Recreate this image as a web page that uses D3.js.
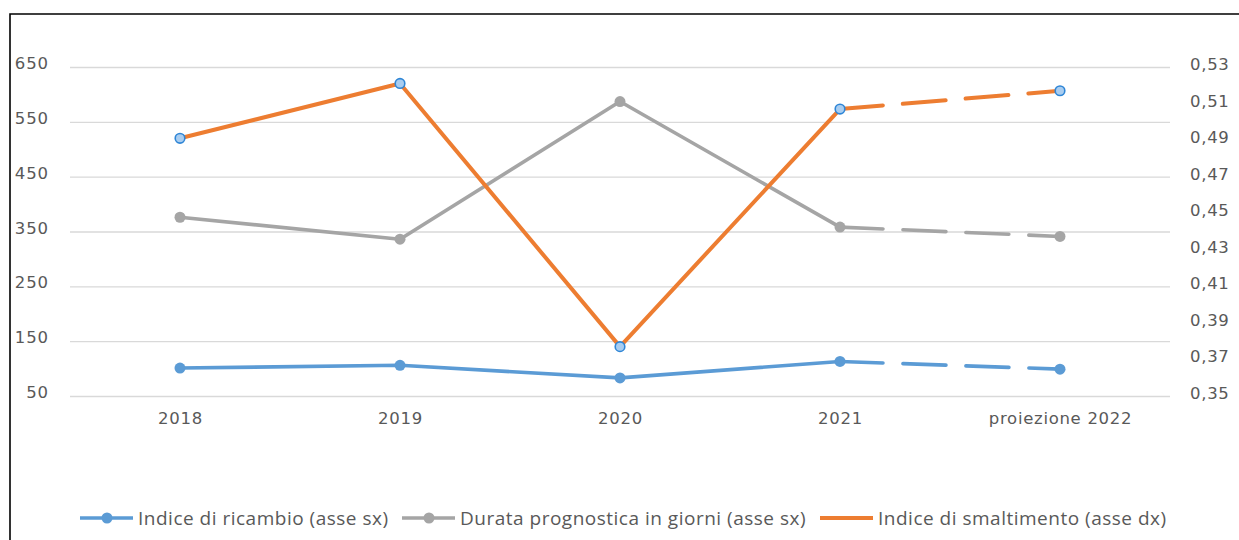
<!DOCTYPE html>
<html>
<head>
<meta charset="utf-8">
<script src="https://cdn.jsdelivr.net/npm/d3@7"></script>
<style>
  body { margin: 0; background: #fff; }
  svg { display: block; }
</style>
</head>
<body>
<div id="chart"></div>
<script>
// data
var years = ['2018', '2019', '2020', '2021', 'proiezione 2022']
var ricambio = [101, 106, 83, 113, 99]
var durata = [376, 336, 587, 358, 341]
var smaltimento = [0.491, 0.521, 0.377, 0.507, 0.517]
var leftTicks = [50, 150, 250, 350, 450, 550, 650]
var rightTicks = [0.35, 0.37, 0.39, 0.41, 0.43, 0.45, 0.47, 0.49, 0.51, 0.53]
var legendLabels = ['Indice di ricambio (asse sx)', 'Durata prognostica in giorni (asse sx)', 'Indice di smaltimento (asse dx)']

var width = 1239
var height = 540
var plot = { left: 70, right: 1170, top: 67, bottom: 396 }

var svg = d3.select('#chart').append('svg')
  .attr('width', width)
  .attr('height', height)

// frame
svg.append('path')
  .attr('d', 'M10,' + (height + 5) + 'V14H' + (width + 5))
  .attr('fill', 'none')
  .attr('stroke', '#000')
  .attr('stroke-width', 1.6)

var xScale = d3.scalePoint()
  .domain(years)
  .range([plot.left, plot.right])
  .padding(0.5)

var yLeft = d3.scaleLinear()
  .domain([50, 650])
  .range([plot.bottom, plot.top])

var yRight = d3.scaleLinear()
  .domain([0.35, 0.53])
  .range([plot.bottom, plot.top])

var tickFont = '"DejaVu Sans", Verdana, sans-serif'

// grid + left axis
var leftAxis = d3.axisLeft(yLeft)
  .tickValues(leftTicks)
  .tickSize(-(plot.right - plot.left))
  .tickPadding(21)
  .tickFormat(d3.format('d'))

var gl = svg.append('g')
  .attr('transform', 'translate(' + plot.left + ',0)')
  .call(leftAxis)
gl.select('.domain').remove()
gl.selectAll('.tick line').attr('stroke', '#d9d9d9').attr('stroke-width', 1.3)
gl.selectAll('.tick text')
  .attr('fill', '#595959')
  .attr('dy', '0.1em')
  .style('font-family', tickFont)
  .style('font-size', '16.5px')
  .style('letter-spacing', '0.9px')

// right axis labels
var rightAxis = d3.axisRight(yRight)
  .tickValues(rightTicks)
  .tickSize(0)
  .tickPadding(20)
  .tickFormat(function(d) { return d3.format('.2f')(d).replace('.', ',') })

var gr = svg.append('g')
  .attr('transform', 'translate(' + plot.right + ',0)')
  .call(rightAxis)
gr.select('.domain').remove()
gr.selectAll('.tick text')
  .attr('fill', '#595959')
  .attr('dy', '0.15em')
  .style('font-family', tickFont)
  .style('font-size', '16.5px')
  .style('letter-spacing', '0.7px')

// category labels
var xAxis = d3.axisBottom(xScale).tickSize(0).tickPadding(16)
var gx = svg.append('g')
  .attr('transform', 'translate(0,' + plot.bottom + ')')
  .call(xAxis)
gx.select('.domain').remove()
gx.selectAll('.tick text')
  .attr('fill', '#595959')
  .style('font-family', tickFont)
  .style('font-size', '16.5px')
  .style('letter-spacing', '0.7px')

var series = [
  { values: ricambio, y: yLeft, color: '#5b9bd5', width: 3.6, marker: 'solid' },
  { values: durata, y: yLeft, color: '#a5a5a5', width: 3.6, marker: 'solid' },
  { values: smaltimento, y: yRight, color: '#ed7d31', width: 4, marker: 'hollow' }
]

series.forEach(function(s) {
  var pts = s.values.map(function(v, i) { return [xScale(years[i]), s.y(v)] })
  var line = d3.line()
  var g = svg.append('g')
  // actual years solid, projection dashed
  g.append('path')
    .attr('d', line(pts.slice(0, 4)))
    .attr('fill', 'none')
    .attr('stroke', s.color)
    .attr('stroke-width', s.width)
    .attr('stroke-linejoin', 'round')
  g.append('path')
    .attr('d', line(pts.slice(3)))
    .attr('fill', 'none')
    .attr('stroke', s.color)
    .attr('stroke-width', s.width)
    .attr('stroke-dasharray', '43,20')
    .attr('stroke-linecap', 'round')
  g.selectAll('circle')
    .data(pts)
    .join('circle')
    .attr('cx', function(d) { return d[0] })
    .attr('cy', function(d) { return d[1] })
    .attr('r', s.marker === 'solid' ? 5.5 : 4.8)
    .attr('fill', s.marker === 'solid' ? s.color : '#a9cdf0')
    .attr('stroke', s.marker === 'solid' ? 'none' : '#2f86d6')
    .attr('stroke-width', 1.6)
})

// legend
var legendX = [80, 402, 820]
var legendY = 518
var lg = svg.append('g')
  .style('font-family', '"Open Sans", sans-serif')
  .style('font-size', '19px')
  .style('letter-spacing', '0.5px')

legendLabels.forEach(function(label, i) {
  var s = series[i]
  var x0 = legendX[i]
  lg.append('line')
    .attr('x1', x0).attr('x2', x0 + 53)
    .attr('y1', legendY).attr('y2', legendY)
    .attr('stroke', s.color)
    .attr('stroke-width', s.width)
  if (s.marker === 'solid') {
    lg.append('circle')
      .attr('cx', x0 + 27).attr('cy', legendY)
      .attr('r', 5.5)
      .attr('fill', s.color)
  }
  lg.append('text')
    .attr('x', x0 + 58)
    .attr('y', legendY)
    .attr('dy', '0.35em')
    .attr('fill', '#595959')
    .text(label)
})
</script>
</body>
</html>
